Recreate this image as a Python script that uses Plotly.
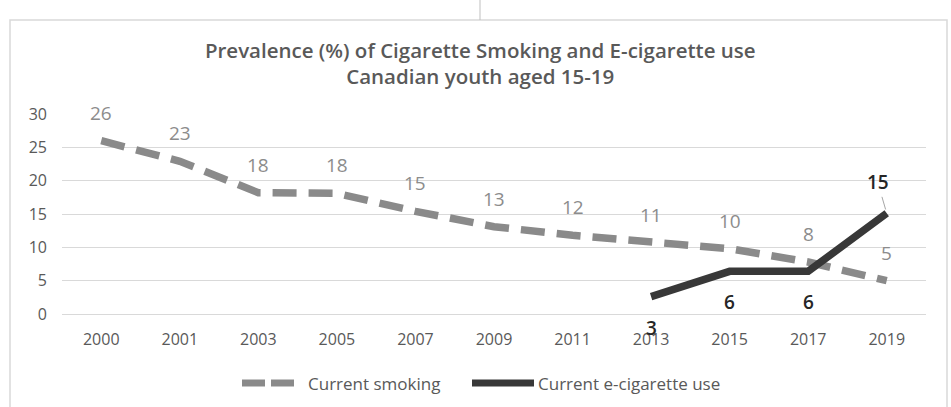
import plotly.graph_objects as go

years = ["2000", "2001", "2003", "2005", "2007", "2009", "2011", "2013", "2015", "2017", "2019"]
smoking = [26.0, 22.9, 18.2, 18.1, 15.4, 13.1, 11.8, 10.7, 9.8, 7.8, 5.0]
ecig_years = ["2013", "2015", "2017", "2019"]
ecig = [2.6, 6.4, 6.4, 15.1]
y_ticks = [0, 5, 10, 15, 20, 25, 30]
series_names = ["Current smoking", "Current e-cigarette use"]

title_text = "Prevalence (%) of Cigarette Smoking and E-cigarette use<br>Canadian youth aged 15-19"

FONT = "Open Sans"
GRID = "#d9d9d9"
SMOKE_C = "#8a8a8a"
ECIG_C = "#383838"

# plot area in pixels (for converting layout decorations to paper coords)
PL, PR, PT, PB = 62, 926, 114, 314
def px(x):
    return (x - PL) / (PR - PL)
def py(y):
    return (PB - y) / (PB - PT)

fig = go.Figure()
fig.add_trace(go.Scatter(
    x=years, y=smoking, mode="lines", name=series_names[0], showlegend=False,
    line=dict(color=SMOKE_C, width=7.5, dash="24px,12px"),
))
fig.add_trace(go.Scatter(
    x=ecig_years, y=ecig, mode="lines", name=series_names[1], showlegend=False,
    line=dict(color=ECIG_C, width=7.5),
))

annotations = []
for xv, yv in zip(years, smoking):
    annotations.append(dict(
        x=years.index(xv), y=yv, text=f"{yv:.0f}", showarrow=False, yshift=28,
        font=dict(family=FONT, size=19, color="#8c8c8c"),
    ))
ecig_shift = [-31, -31, -31, None]
for xv, yv, s in zip(ecig_years, ecig, ecig_shift):
    xi = years.index(xv)
    if s is not None:
        annotations.append(dict(
            x=xi, y=yv, text=f"{yv:.0f}", showarrow=False, yshift=s,
            font=dict(family=FONT, size=19, color="#262626", weight=600),
        ))
    else:
        annotations.append(dict(
            x=xi, y=yv, text=f"{yv:.0f}", showarrow=True, ax=-9, ay=-31,
            arrowhead=0, arrowwidth=1, arrowcolor="#a6a6a6", standoff=4,
            font=dict(family=FONT, size=19, color="#262626", weight=600),
        ))

# custom legend (text labels)
LEG_Y = 383
annotations.append(dict(
    xref="paper", yref="paper", x=px(306), y=py(LEG_Y), xanchor="left", yanchor="middle",
    text=series_names[0], showarrow=False, font=dict(family=FONT, size=17, color="#595959"),
))
annotations.append(dict(
    xref="paper", yref="paper", x=px(536), y=py(LEG_Y), xanchor="left", yanchor="middle",
    text=series_names[1], showarrow=False, font=dict(family=FONT, size=17, color="#595959"),
))

shapes = [
    dict(type="rect", xref="paper", yref="paper",
         x0=px(10), x1=px(947), y0=py(420), y1=py(20),
         line=dict(color=GRID, width=1.5), layer="below"),
    dict(type="line", xref="paper", yref="paper",
         x0=px(480), x1=px(480), y0=py(20), y1=py(-5),
         line=dict(color="#bfbfbf", width=1)),
    # legend samples
    dict(type="line", xref="paper", yref="paper",
         x0=px(242), x1=px(265), y0=py(LEG_Y), y1=py(LEG_Y),
         line=dict(color=SMOKE_C, width=7)),
    dict(type="line", xref="paper", yref="paper",
         x0=px(271), x1=px(294), y0=py(LEG_Y), y1=py(LEG_Y),
         line=dict(color=SMOKE_C, width=7)),
    dict(type="line", xref="paper", yref="paper",
         x0=px(472), x1=px(534), y0=py(LEG_Y), y1=py(LEG_Y),
         line=dict(color=ECIG_C, width=7)),
]

fig.update_layout(
    width=951, height=407,
    margin=dict(l=PL, r=951 - PR, t=PT, b=407 - PB, autoexpand=False),
    paper_bgcolor="white", plot_bgcolor="white",
    title=dict(
        text=title_text, x=0.505, xref="container", xanchor="center",
        y=1 - 57.5 / 407, yref="container", yanchor="middle",
        font=dict(family=FONT, size=20.5, color="#595959", weight=600),
    ),
    xaxis=dict(
        type="category", categoryorder="array", categoryarray=years,
        range=[-0.5, 10.5], showgrid=False, showline=False, zeroline=False,
        ticks="", ticklabelstandoff=14,
        tickfont=dict(family=FONT, size=16, color="#595959"),
    ),
    yaxis=dict(
        range=[0, 30], tickvals=y_ticks, showgrid=True, gridcolor=GRID, gridwidth=1,
        zeroline=True, zerolinecolor=GRID, zerolinewidth=1, showline=False,
        ticks="", ticklabelstandoff=14,
        tickfont=dict(family=FONT, size=16, color="#595959"),
    ),
    showlegend=False,
    annotations=annotations,
    shapes=shapes,
)

fig.write_html("out.html")
